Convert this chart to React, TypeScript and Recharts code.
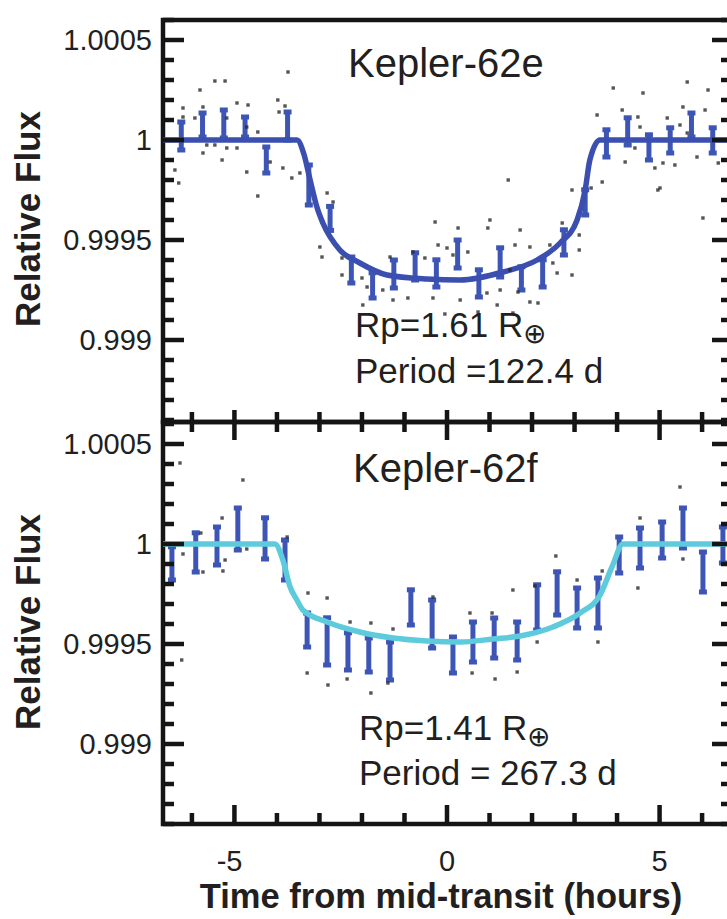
import React from "react";
import {
  ComposedChart,
  Scatter,
  Line,
  XAxis,
  YAxis,
  ErrorBar,
  ReferenceArea,
} from "recharts";

// ---- axis ticks (hours / relative flux) ----
const hourTicks = [-6, -5, -4, -3, -2, -1, 0, 1, 2, 3, 4, 5, 6];
const hourLabels = [-5, 0, 5];
const fluxTicks = [
  0.9986, 0.9987, 0.9988, 0.9989, 0.999, 0.9991, 0.9992, 0.9993, 0.9994, 0.9995,
  0.9996, 0.9997, 0.9998, 0.9999, 1, 1.0001, 1.0002, 1.0003, 1.0004, 1.0005, 1.0006,
];
const fluxLabels = [0.999, 0.9995, 1, 1.0005];

// ---- Kepler-62e ----
const eBinTime = [
  -6.25, -5.75, -5.25, -4.75, -4.25, -3.75, -3.25, -2.75, -2.25, -1.75, -1.25, -0.75, -0.25,
  0.25, 0.75, 1.25, 1.75, 2.25, 2.75, 3.25, 3.75, 4.25, 4.75, 5.25, 5.75, 6.25,
];
const eBinFlux = [
  1.00002, 1.000075, 1.00008, 1.000065, 0.9999, 1.00007, 0.999775, 0.999608, 0.99935, 0.999273,
  0.99933, 0.999368, 0.999333, 0.99943, 0.999283, 0.999388, 0.999308, 0.999333, 0.999488,
  0.999688, 0.999983, 1.000043, 0.999963, 0.999998, 1.000075, 0.999998,
];
const eBinErr = [
  0.00007, 0.00006, 0.00007, 0.00005, 0.000065, 0.00007, 0.0001, 0.00006, 0.000065, 0.000063,
  0.00007, 0.000068, 0.000068, 0.00007, 0.000068, 0.000073, 0.000058, 0.000068, 0.000063,
  0.000063, 0.000068, 0.000068, 0.000063, 0.000063, 0.00006, 0.000063,
];
const eModelTime = [
  -6.68, -3.53, -3.36, -3.22, -3.06, -2.92, -2.52, -2.05, -1.41, -0.47, 0.31, 1.32, 2.12, 2.66,
  3.06, 3.25, 3.36, 3.6, 6.68,
];
const eModelFlux = [
  1, 1, 0.999925, 0.9998, 0.999665, 0.999585, 0.99945, 0.999385, 0.999325, 0.999305, 0.9993,
  0.99934, 0.9994, 0.999485, 0.9996, 0.99975, 0.9999, 1, 1,
];
const ePointTime = [
  -3.74, -5.81, -5.46, -5.22, -6.21, -6.21, -5.74, -5.93, -4.94, -4.68, -3.98, -3.95, -3.81,
  -5.18, -4.71, -4.45, -5.65, -5.46, -5.18, -4.94, -5.74, -5.29, -6.4, -6.31, -4.71, -4.45,
  -4.16, -3.86, -3.65, -3.46, -2.82, -2.68, -2.99, -2.94, -2.47, -2.47, -2.0, -1.88, -1.98,
  -1.51, -1.34, -1.27, -0.92, -0.8, -0.52, -0.33, -0.28, -0.21, 0, 0.14, -0.05, 0.26, 0.49,
  1.01, 0.96, 1.72, 1.6, 1.95, 0.31, 0.73, 0.94, 1.18, 1.25, 1.48, 1.67, 1.95, 2.14, 1.55,
  2.49, 2.59, 2.94, 2.71, 3.11, 3.11, 2.42, 4.96, 6.02, 1.44, 2.94, 3.39, 3.65, 3.91, 4.61,
  5.65, 6.14, 3.53, 4.12, 4.49, 4.54, 5.18, 5.55, 5.48, 6.07, 5.65, 4.42, 4.19, 4.89, 5.08,
  5.36, 5.01, 5.88, 6.38,
];
const ePointFlux = [
  1.00034, 1.00025, 1.000295, 1.000295, 1.00016, 1.000115, 1.000165, 1.00011, 1.000185,
  1.000175, 1.0002, 1.00014, 1.00017, 1.00011, 1.000065, 1.00004, 0.999975, 0.999975, 0.99996,
  0.99996, 0.999935, 0.9999, 0.99985, 0.999785, 0.99984, 0.99972, 0.99989, 0.99986, 0.99981,
  0.999835, 0.999735, 0.99969, 0.999465, 0.999415, 0.99941, 0.999325, 0.99931, 0.999265,
  0.999175, 0.99925, 0.999415, 0.9992, 0.99921, 0.99944, 0.99941, 0.99921, 0.99959, 0.999475,
  0.99946, 0.999425, 0.99913, 0.99956, 0.99944, 0.9996, 0.99956, 0.99955, 0.999475, 0.999465,
  0.9992, 0.99914, 0.999235, 0.999175, 0.99925, 0.99935, 0.99924, 0.99919, 0.999185, 0.999135,
  0.999385, 0.999335, 0.999325, 0.999585, 0.999525, 0.99945, 0.999475, 0.99975, 0.99961,
  0.9998, 0.99975, 0.99976, 0.99979, 1.00026, 1.000235, 1.00029, 1.00025, 1.000125, 1.00015,
  1.000115, 1.000065, 1.00011, 1.000165, 1.000075, 1.00015, 1.000035, 0.99996, 0.99989,
  0.99986, 0.999885, 0.999875, 0.99976, 0.999915, 0.999885,
];

// ---- Kepler-62f ----
const fBinTime = [
  -6.47, -5.91, -5.41, -4.92, -4.28, -3.81, -3.29, -2.82, -2.33, -1.84, -1.34, -0.85, -0.35,
  0.14, 0.61, 1.11, 1.65, 2.12, 2.59, 3.06, 3.55, 4.05, 4.54, 5.06, 5.55, 6.02, 6.49,
];
const fBinFlux = [
  0.999903, 0.999958, 0.99999, 1.000075, 1.000028, 0.99992, 0.99957, 0.999513, 0.999463,
  0.999445, 0.999415, 0.999683, 0.9996, 0.999445, 0.99951, 0.99953, 0.999515, 0.999683,
  0.999753, 0.99968, 0.999705, 0.999945, 0.99998, 1.00002, 1.00008, 0.99986, 0.999995,
];
const fBinErr = [
  0.000083, 0.000098, 0.000095, 0.000105, 0.000103, 0.0001, 0.000085, 0.000118, 0.000093,
  0.000085, 0.000095, 0.000088, 0.00012, 0.00009, 0.0001, 0.0001, 0.000095, 0.000113,
  0.000108, 0.0001, 0.000125, 0.00009, 0.0001, 0.00009, 0.0001, 0.0001, 0.00009,
];
const fModelTime = [
  -6.68, -4.05, -3.86, -3.69, -3.53, -3.39, -2.82, -2.05, -1.27, -0.47, 0.31, 1.08, 1.72, 2.49,
  3.13, 3.6, 3.88, 4.14, 6.68,
];
const fModelFlux = [
  1, 1, 0.99992, 0.999785, 0.99972, 0.99967, 0.99961, 0.99956, 0.99953, 0.999515, 0.99951,
  0.999525, 0.99954, 0.999585, 0.999655, 0.999745, 0.999885, 1, 1,
];
const fPointTime = [
  -6.28, -4.8, -5.29, -5.79, -6.21, -5.74, -5.27, -4.71, -5.22, -3.76, -3.27, -2.82, -0.33,
  -6.24, -3.29, -2.8, -2.35, -1.79, -1.39, -2.28, -1.79, -1.27, 0.54, 1.06, 0.59, 1.13, 1.65,
  2.12, 3.55, 1.55, 2.56, 2.07, 3.06, 3.65, 4.54, 5.48, 5.55, 4.49,
];
const fPointFlux = [
  1.000405, 1.00032, 1.00013, 1.000055, 0.99995, 0.99986, 0.999865, 0.999975, 0.99992,
  1.000035, 0.999755, 0.99973, 0.999735, 0.99942, 0.999355, 0.999295, 0.999325, 0.999255,
  0.999305, 0.99961, 0.999605, 0.999575, 0.999655, 0.999655, 0.999355, 0.999325, 0.99936,
  0.99951, 0.99951, 0.99977, 0.99994, 0.99979, 0.99982, 0.999865, 1.00013, 1.000285, 0.999925,
  0.99978,
];

const FONT = '"Liberation Sans", Arial, Helvetica, sans-serif';
const INK = "#231f20";
const AXIS = "#151515";
const BAR_BLUE = "#3d55b4";
const T_DOMAIN: [number, number] = [-6.68, 6.68];
const PLOT_W = 568;
const PLOT_H = 402;
const Y_AXIS_W = 163;
const TW = 4.5; // tick thickness

const zip = (t: number[], v: number[]) => t.map((x, i) => ({ t: x, v: v[i] }));
const zipErr = (t: number[], v: number[], e: number[]) =>
  t.map((x, i) => ({ t: x, v: v[i], e: e[i] }));

const isFluxLabel = (v: number) => fluxLabels.some((l) => Math.abs(l - v) < 1e-9);

const hBar = (x0: number, x1: number, y: number) => (
  <rect x={Math.min(x0, x1)} y={y - TW / 2} width={Math.abs(x1 - x0)} height={TW} fill={AXIS} />
);
const vBar = (x: number, y0: number, y1: number) => (
  <rect x={x - TW / 2} y={Math.min(y0, y1)} width={TW} height={Math.abs(y1 - y0)} fill={AXIS} />
);

function FluxTick(props: any) {
  const x = Number(props.x);
  const y = Number(props.y);
  const value = props.payload.value as number;
  const major = isFluxLabel(value);
  const right = x + PLOT_W;
  return (
    <g>
      {hBar(x, x + (major ? 21 : 11), y)}
      {hBar(right, right - (major ? 19 : 10), y)}
      {major && (
        <text x={x - 11} y={y + 10} textAnchor="end" fontSize={29} fill={INK} fontFamily={FONT}>
          {String(value)}
        </text>
      )}
    </g>
  );
}

// ticks on the top border and on the shared line cross the line
const crossTick = (x: number, y: number, major: boolean, inward: 1 | -1) =>
  vBar(x, y - inward * (major ? 12 : 10), y + inward * (major ? 18 : 10));

function UpperTick(props: any) {
  const x = Number(props.x);
  const y = Number(props.y);
  const major = hourLabels.includes(props.payload.value);
  return (
    <g>
      {crossTick(x, y - PLOT_H, major, 1)}
      {crossTick(x, y, major, -1)}
    </g>
  );
}

function LowerTick(props: any) {
  const x = Number(props.x);
  const y = Number(props.y);
  const v = props.payload.value as number;
  const major = hourLabels.includes(v);
  return (
    <g>
      {crossTick(x, y - PLOT_H, major, 1)}
      {vBar(x, y, y - (major ? 19 : 11))}
      {major && (
        <text
          x={v < 0 ? x + 8 : x}
          y={y + 47}
          textAnchor={v < 0 ? "end" : "middle"}
          fontSize={29}
          fill={INK}
          fontFamily={FONT}
        >
          {String(v)}
        </text>
      )}
    </g>
  );
}

const Speck = (p: any) => (
  <rect x={p.cx - 1.7} y={p.cy - 1.7} width={3.4} height={3.4} fill="#2a2a2a" fillOpacity={0.8} />
);
const NoMark = () => <g />;

type PanelProps = {
  points: { t: number; v: number }[];
  bins: { t: number; v: number; e: number }[];
  model: { t: number; v: number }[];
  modelColor: string;
  yDomain: [number, number];
  height: number;
  marginTop: number;
  marginBottom: number;
  xAxisHeight: number;
  lower: boolean;
};

function Panel(p: PanelProps) {
  return (
    <ComposedChart
      width={Y_AXIS_W + PLOT_W}
      height={p.height}
      margin={{ top: p.marginTop, right: 0, bottom: p.marginBottom, left: 0 }}
    >
      <ReferenceArea
        x1={T_DOMAIN[0]}
        x2={T_DOMAIN[1]}
        y1={p.yDomain[0]}
        y2={p.yDomain[1]}
        ifOverflow="visible"
        fill="none"
        stroke={AXIS}
        strokeWidth={4.5}
      />
      <Scatter data={p.points} shape={Speck} isAnimationActive={false} />
      <Scatter data={p.bins} shape={NoMark} isAnimationActive={false}>
        <ErrorBar
          dataKey="e"
          direction="y"
          width={4}
          stroke={BAR_BLUE}
          strokeWidth={5}
          isAnimationActive={false}
        />
      </Scatter>
      <Line
        data={p.model}
        dataKey="v"
        type="monotone"
        stroke={p.modelColor}
        strokeWidth={5.5}
        dot={false}
        isAnimationActive={false}
      />
      <XAxis
        type="number"
        dataKey="t"
        domain={T_DOMAIN}
        allowDataOverflow
        ticks={hourTicks}
        interval={0}
        height={p.xAxisHeight}
        axisLine={false}
        tickLine={false}
        tickSize={0}
        tickMargin={0}
        tick={p.lower ? LowerTick : UpperTick}
      />
      <YAxis
        type="number"
        dataKey="v"
        domain={p.yDomain}
        allowDataOverflow
        ticks={fluxTicks}
        interval={0}
        width={Y_AXIS_W}
        axisLine={false}
        tickLine={false}
        tickSize={0}
        tickMargin={0}
        tick={FluxTick}
      />
    </ComposedChart>
  );
}

export default function App() {
  const textStyle = { fontFamily: FONT, fill: INK } as const;
  return (
    <div
      style={{
        position: "absolute",
        left: 0,
        top: 0,
        width: 727,
        height: 919,
        overflow: "hidden",
        background: "#ffffff",
      }}
    >
      <div style={{ position: "absolute", left: 0, top: 0 }}>
        <Panel
          points={zip(ePointTime, ePointFlux)}
          bins={zipErr(eBinTime, eBinFlux, eBinErr)}
          model={zip(eModelTime, eModelFlux)}
          modelColor="#3a4fb0"
          yDomain={[0.99859, 1.0006]}
          height={452}
          marginTop={20}
          marginBottom={30}
          xAxisHeight={0}
          lower={false}
        />
      </div>
      <div style={{ position: "absolute", left: 0, top: 400 }}>
        <Panel
          points={zip(fPointTime, fPointFlux)}
          bins={zipErr(fBinTime, fBinFlux, fBinErr)}
          model={zip(fModelTime, fModelFlux)}
          modelColor="#5ecbdd"
          yDomain={[0.9986, 1.00061]}
          height={519}
          marginTop={22}
          marginBottom={0}
          xAxisHeight={95}
          lower={true}
        />
      </div>
      <svg
        width={727}
        height={919}
        style={{ position: "absolute", left: 0, top: 0, pointerEvents: "none" }}
      >
        <text x={348} y={77} fontSize={40} {...textStyle}>Kepler-62e</text>
        <text x={355} y={337} fontSize={35} {...textStyle}>
          Rp=1.61 R<tspan fontSize={28} dy={6}>⊕</tspan>
        </text>
        <text x={355} y={383} fontSize={35} {...textStyle}>Period =122.4 d</text>

        <text x={353} y={482} fontSize={40} {...textStyle}>Kepler-62f</text>
        <text x={359} y={740} fontSize={35} {...textStyle}>
          Rp=1.41 R<tspan fontSize={28} dy={6}>⊕</tspan>
        </text>
        <text x={359} y={785} fontSize={35} {...textStyle}>Period = 267.3 d</text>

        <text
          transform="translate(40,219) rotate(-90)"
          textAnchor="middle"
          fontSize={35}
          fontWeight="bold"
          {...textStyle}
        >
          Relative Flux
        </text>
        <text
          transform="translate(40,622) rotate(-90)"
          textAnchor="middle"
          fontSize={35}
          fontWeight="bold"
          {...textStyle}
        >
          Relative Flux
        </text>
        <text x={441} y={908} textAnchor="middle" fontSize={34.5} fontWeight="bold" {...textStyle}>
          Time from mid-transit (hours)
        </text>
      </svg>
    </div>
  );
}
